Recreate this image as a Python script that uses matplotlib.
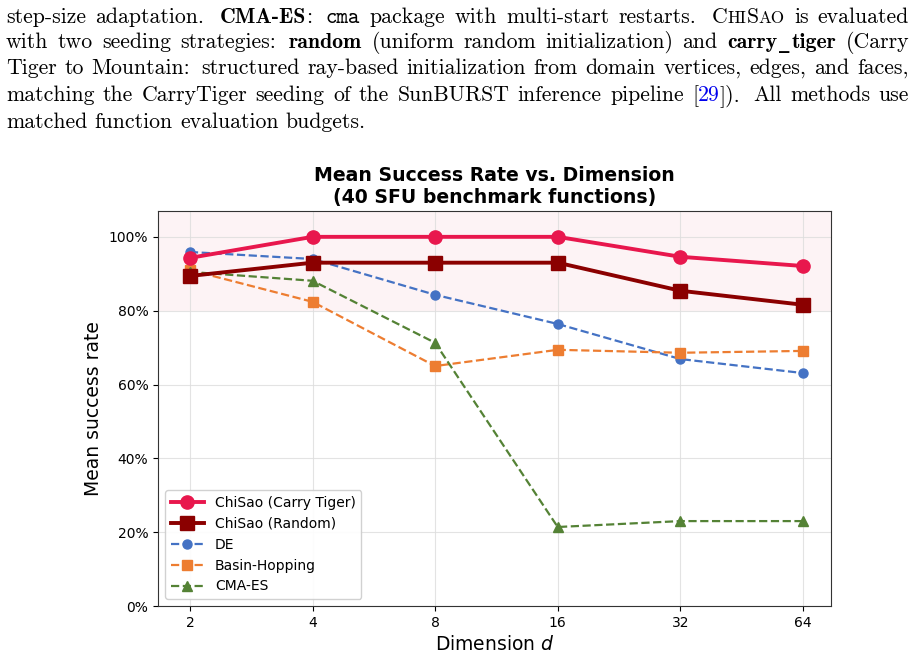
import numpy as np
import matplotlib
matplotlib.use("Agg")
import matplotlib.pyplot as plt
from matplotlib.ticker import PercentFormatter, FixedLocator, NullLocator

# ── data ──
dims = [2, 4, 8, 16, 32, 64]
chisao_carry = [0.943, 1.00, 1.00, 1.00, 0.946, 0.921]
chisao_random = [0.894, 0.930, 0.930, 0.930, 0.854, 0.816]
de_rate = [0.959, 0.940, 0.843, 0.764, 0.669, 0.631]
basin_rate = [0.910, 0.824, 0.650, 0.694, 0.686, 0.691]
cma_rate = [0.905, 0.881, 0.713, 0.214, 0.230, 0.230]

W, H = 914, 659
fig = plt.figure(figsize=(W / 100, H / 100), dpi=100)
renderer = fig.canvas.get_renderer()

# ── paragraph above the chart (LaTeX-like, justified) ──
FS = 15.7
EM = FS * 100 / 72  # px per em
styles = {
    "rm": dict(family="cmr10", size=FS),
    "bf": dict(family="cmb10", size=FS),
    "tt": dict(family="cmtt10", size=FS),
    "sc": dict(family="cmr10", size=FS * 0.78),
    "bl": dict(family="cmr10", size=FS, color="#0000ee"),
    "us": dict(family="DejaVu Serif", size=FS * 0.95, weight="bold"),
}

def words(s, st="rm"):
    return [[(w, st)] for w in s.split()]

lines = [
    words("step-size adaptation.") + [[("CMA-ES", "bf"), (":", "rm")], [("cma", "tt")]]
    + words("package with multi-start restarts.")
    + [[("C", "rm"), ("HI", "sc"), ("S", "rm"), ("AO", "sc")]] + words("is evaluated"),
    words("with two seeding strategies:") + [[("random", "bf")]]
    + words("(uniform random initialization) and")
    + [[("carry", "bf"), ("_", "us"), ("tiger", "bf")]] + words("(Carry"),
    words("Tiger to Mountain: structured ray-based initialization from domain vertices, edges, and faces,"),
    words("matching the CarryTiger seeding of the SunBURST inference pipeline")
    + [[("[", "rm"), ("29", "bl"), ("]).", "rm")]] + words("All methods use"),
    words("matched function evaluation budgets."),
]

X0, X1 = 6, 909
baselines = [23, 48, 74, 101, 128]

def seg_width(txt, st):
    t = fig.text(0, 0, txt, **styles[st])
    w = t.get_window_extent(renderer).width
    t.remove()
    return w

def glue(word):
    # TeX-ish interword glue depending on the space factor of the last char
    last = word[-1][0][-1]
    if last in ".":
        return 0.444 * EM, 0.5 * EM
    if last in ":":
        return 0.444 * EM, 0.333 * EM
    if last in ",":
        return 0.333 * EM, 0.208 * EM
    return 0.333 * EM, 0.167 * EM

for li, (line, yb) in enumerate(zip(lines, baselines)):
    widths = []
    for wd in line:
        ws = []
        for t, st in wd:
            w = seg_width(t, st)
            if st == "us":
                w += 4
            ws.append(w)
        widths.append(ws)
    glues = [glue(wd) for wd in line[:-1]]
    natural = sum(sum(w) for w in widths) + sum(g[0] for g in glues)
    if li < len(lines) - 1:
        ratio = (X1 - X0 - natural) / sum(g[1] for g in glues)
    else:
        ratio = 0.0
    x = X0
    for i, (wd, ws) in enumerate(zip(line, widths)):
        for (t, st), w in zip(wd, ws):
            xo = x + (2 if st == "us" else 0)
            fig.text(xo / W, 1 - yb / H, t, ha="left", va="baseline", **styles[st])
            x += w
        if i < len(glues):
            x += glues[i][0] + ratio * glues[i][1]

# ── chart ──
ax = fig.add_axes([158 / W, 1 - 606 / H, (831 - 158) / W, (606 - 211) / H])

ax.axhspan(0.80, 1.10, color="#e8174d", alpha=0.05, lw=0, zorder=0)

ax.plot(dims, chisao_carry, "-o", color="#e8174d", lw=2.8, ms=9.5,
        label="ChiSao (Carry Tiger)", zorder=5)
ax.plot(dims, chisao_random, "-s", color="#8b0000", lw=2.8, ms=9.5,
        label="ChiSao (Random)", zorder=4)
ax.plot(dims, de_rate, "--o", color="#4472c4", lw=1.6, ms=6.5, label="DE", zorder=3)
ax.plot(dims, basin_rate, "--s", color="#ed7d31", lw=1.6, ms=6.5,
        label="Basin-Hopping", zorder=3)
ax.plot(dims, cma_rate, "--^", color="#548235", lw=1.6, ms=6.5, label="CMA-ES", zorder=3)

ax.set_xscale("log", base=2)
ax.set_xlim(1.67, 75)
ax.xaxis.set_major_locator(FixedLocator(dims))
ax.xaxis.set_minor_locator(NullLocator())
ax.set_xticklabels([str(d) for d in dims])
ax.set_ylim(0, 1.07)
ax.set_yticks(np.arange(0, 1.01, 0.2))
ax.yaxis.set_major_formatter(PercentFormatter(1.0, decimals=0))
ax.tick_params(labelsize=10)
ax.grid(True, color="#dddddd", lw=0.8, alpha=0.8)
ax.set_axisbelow(True)
for sp in ax.spines.values():
    sp.set_edgecolor("#333333")

ax.set_xlabel("Dimension $d$", fontsize=13.5)
ax.set_ylabel("Mean success rate", fontsize=13.5)
ax.set_title("Mean Success Rate vs. Dimension\n(40 SFU benchmark functions)",
             fontsize=13.6, fontweight="bold", pad=6)
ax.legend(loc="lower left", fontsize=10, handlelength=2.4, framealpha=0.9)

fig.savefig("out.png", dpi=100)
